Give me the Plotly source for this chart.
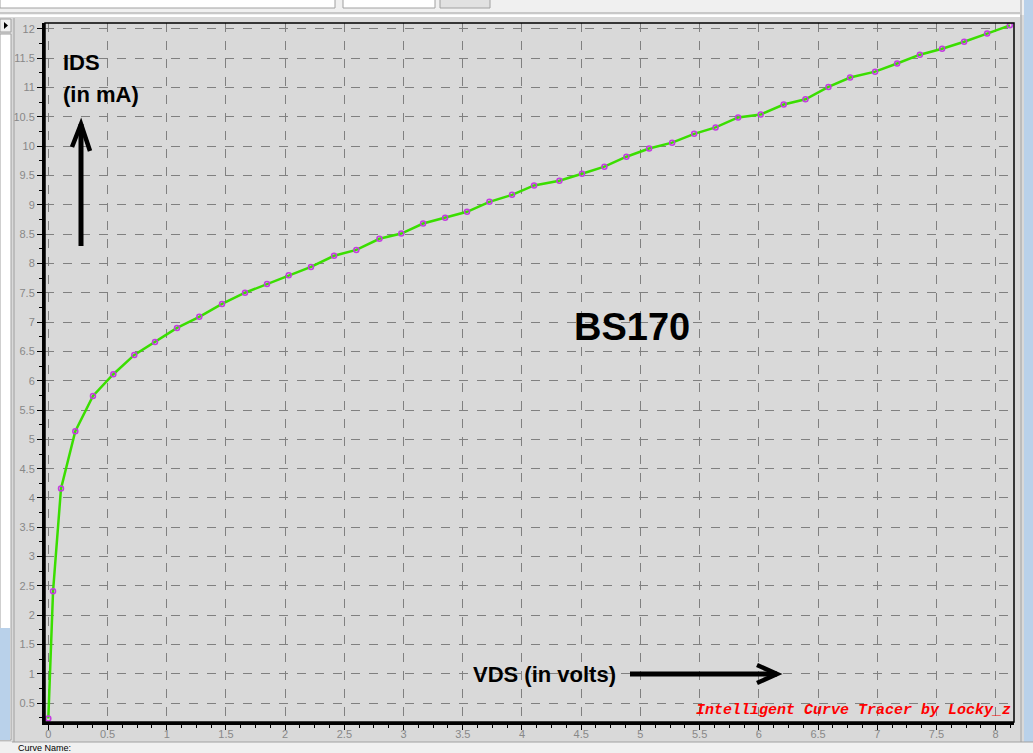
import plotly.graph_objects as go

# ---- data ----
vds = [0, 0.04, 0.107, 0.228, 0.377, 0.549, 0.726, 0.901, 1.087, 1.275, 1.467, 1.661,
       1.847, 2.03, 2.218, 2.413, 2.601, 2.796, 2.981, 3.165, 3.351, 3.536, 3.725, 3.916,
       4.102, 4.316, 4.507, 4.696, 4.882, 5.074, 5.268, 5.454, 5.635, 5.825, 6.016, 6.21,
       6.394, 6.588, 6.771, 6.982, 7.168, 7.36, 7.548, 7.734, 7.928, 8.12]
ids_ma = [0.24, 2.41, 4.16, 5.14, 5.74, 6.11, 6.44, 6.66, 6.90, 7.09, 7.31, 7.50,
          7.65, 7.80, 7.94, 8.13, 8.23, 8.42, 8.51, 8.68, 8.78, 8.88, 9.05, 9.17,
          9.33, 9.41, 9.53, 9.65, 9.82, 9.96, 10.06, 10.21, 10.32, 10.49, 10.54, 10.71,
          10.80, 11.01, 11.17, 11.27, 11.41, 11.56, 11.66, 11.78, 11.92, 12.06]
x_ticks = [i * 0.5 for i in range(17)]
x_tick_labels = ["0", "0.5", "1", "1.5", "2", "2.5", "3", "3.5", "4", "4.5", "5",
                 "5.5", "6", "6.5", "7", "7.5", "8"]
y_ticks = [0.5 * i for i in range(1, 25)]
y_tick_labels = ["0.5", "1", "1.5", "2", "2.5", "3", "3.5", "4", "4.5", "5", "5.5", "6",
                 "6.5", "7", "7.5", "8", "8.5", "9", "9.5", "10", "10.5", "11", "11.5", "12"]

W, H = 1033, 753
L, R, T, B = 45, 1014, 23, 722


def px(x):
    return (x - L) / (R - L)


def py(y):
    return (B - y) / (B - T)


BOLD = "Liberation Sans, Arial, sans-serif"
GRID = "#808080"

fig = go.Figure()
fig.add_trace(go.Scatter(
    x=vds, y=ids_ma, mode="lines+markers",
    line=dict(color="#3ade00", width=2.5),
    marker=dict(symbol="circle-open", size=5, color="#c43ce0", line=dict(width=1.5)),
    showlegend=False, hoverinfo="x+y",
))

shapes = []
# window chrome
shapes.append(dict(type="rect", xref="paper", yref="paper", x0=px(0), x1=px(W), y0=py(0), y1=py(15),
                   fillcolor="#f0f0f0", line=dict(width=0), layer="below"))
shapes.append(dict(type="rect", xref="paper", yref="paper", x0=px(0), x1=px(335), y0=py(-2), y1=py(8),
                   fillcolor="#ffffff", line=dict(color="#a0a0a0", width=1)))
shapes.append(dict(type="rect", xref="paper", yref="paper", x0=px(343), x1=px(435), y0=py(-2), y1=py(8),
                   fillcolor="#ffffff", line=dict(color="#a0a0a0", width=1)))
shapes.append(dict(type="rect", xref="paper", yref="paper", x0=px(440), x1=px(490), y0=py(-2), y1=py(8),
                   fillcolor="#e1e1e1", line=dict(color="#a0a0a0", width=1)))
shapes.append(dict(type="line", xref="paper", yref="paper", x0=px(0), x1=px(1020), y0=py(13), y1=py(13),
                   line=dict(color="#a0a0a0", width=1)))
shapes.append(dict(type="line", xref="paper", yref="paper", x0=px(0), x1=px(1020), y0=py(16), y1=py(16),
                   line=dict(color="#ffffff", width=2)))
# left panel
shapes.append(dict(type="rect", xref="paper", yref="paper", x0=px(0), x1=px(11), y0=py(34), y1=py(740),
                   fillcolor="#ffffff", line=dict(color="#a0a0a0", width=1)))
shapes.append(dict(type="rect", xref="paper", yref="paper", x0=px(0), x1=px(10), y0=py(628), y1=py(740),
                   fillcolor="#b9d1ea", line=dict(width=0)))
shapes.append(dict(type="rect", xref="paper", yref="paper", x0=px(0), x1=px(11), y0=py(19), y1=py(32),
                   fillcolor="#f0f0f0", line=dict(color="#a0a0a0", width=1)))
shapes.append(dict(type="path", xref="paper", yref="paper",
                   path=f"M {px(4)} {py(22)} L {px(8)} {py(25.5)} L {px(4)} {py(29)} Z",
                   fillcolor="#000000", line=dict(width=0)))
shapes.append(dict(type="line", xref="paper", yref="paper", x0=px(14), x1=px(14), y0=py(18), y1=py(742),
                   line=dict(color="#a0a0a0", width=1)))
# right strip
shapes.append(dict(type="rect", xref="paper", yref="paper", x0=px(1024), x1=px(1034), y0=py(0), y1=py(742),
                   fillcolor="#b9d1ea", line=dict(width=0)))
shapes.append(dict(type="line", xref="paper", yref="paper", x0=px(1021), x1=px(1021), y0=py(0), y1=py(742),
                   line=dict(color="#a0a0a0", width=1)))
# bottom strip
shapes.append(dict(type="rect", xref="paper", yref="paper", x0=px(0), x1=px(W), y0=py(742), y1=py(H + 2),
                   fillcolor="#f0f0f0", line=dict(width=0)))
shapes.append(dict(type="line", xref="paper", yref="paper", x0=px(12), x1=px(W), y0=py(742), y1=py(742),
                   line=dict(color="#a0a0a0", width=1)))
# frame (top/right thin)
shapes.append(dict(type="rect", xref="paper", yref="paper", x0=0, x1=1, y0=0, y1=1,
                   line=dict(color="#000000", width=1.5)))
# arrows
shapes.append(dict(type="path", xref="paper", yref="paper",
                   path=f"M {px(81)} {py(246)} L {px(81)} {py(124)}",
                   line=dict(color="#000000", width=5)))
shapes.append(dict(type="path", xref="paper", yref="paper",
                   path=f"M {px(72)} {py(147)} L {px(81)} {py(124)} L {px(90)} {py(151)}",
                   line=dict(color="#000000", width=4.5)))
shapes.append(dict(type="path", xref="paper", yref="paper",
                   path=f"M {px(630)} {py(674)} L {px(777)} {py(674)}",
                   line=dict(color="#000000", width=5)))
shapes.append(dict(type="path", xref="paper", yref="paper",
                   path=f"M {px(757)} {py(665)} L {px(777)} {py(674)} L {px(757)} {py(683)}",
                   line=dict(color="#000000", width=4.5)))

annotations = [
    dict(text="<b>IDS</b>", x=px(61), y=py(63), xanchor="left", yanchor="middle",
         font=dict(family=BOLD, size=22, color="#000000")),
    dict(text="<b>(in mA)</b>", x=px(61), y=py(94), xanchor="left", yanchor="middle",
         font=dict(family=BOLD, size=22, color="#000000")),
    dict(text="<b>BS170</b>", x=px(632), y=py(327), xanchor="center", yanchor="middle",
         font=dict(family=BOLD, size=38, color="#000000")),
    dict(text="<b>VDS (in volts)</b>", x=px(471), y=py(674), xanchor="left", yanchor="middle",
         font=dict(family=BOLD, size=22, color="#000000")),
    dict(text="<b><i>Intelligent Curve Tracer by Locky_z</i></b>", x=px(694), y=py(710),
         xanchor="left", yanchor="middle",
         font=dict(family="Liberation Mono, Courier New, monospace", size=15, color="#ff0000")),
    dict(text="Curve Name:", x=px(16), y=py(747.5), xanchor="left", yanchor="middle",
         font=dict(family="Liberation Sans, Arial", size=9, color="#000000")),
]
for a in annotations:
    a.update(xref="paper", yref="paper", showarrow=False)

fig.update_layout(
    width=W, height=H,
    margin=dict(l=L, r=W - R, t=T, b=H - B, pad=0, autoexpand=False),
    paper_bgcolor="#d9d9d9", plot_bgcolor="#d9d9d9",
    shapes=shapes, annotations=annotations,
    font=dict(family="Liberation Sans, Arial, sans-serif", size=11, color="#888888"),
    xaxis=dict(range=[-0.028, 8.155], tickmode="array", tickvals=x_ticks, ticktext=x_tick_labels,
               showgrid=True, gridcolor=GRID, griddash="dash", gridwidth=1, automargin=False,
               showline=True, linecolor="#000000", linewidth=3, zeroline=False,
               ticks="outside", ticklen=5, tickcolor="#000000", tickwidth=1,
               ticklabelstandoff=-5,
               minor=dict(dtick=0.125, tick0=0, ticks="outside", ticklen=3, tickcolor="#000000", showgrid=False),
               tickfont=dict(color="#888888", size=11), fixedrange=True),
    yaxis=dict(range=[0.18, 12.1], tickmode="array", tickvals=y_ticks, ticktext=y_tick_labels,
               showgrid=True, gridcolor=GRID, griddash="dash", gridwidth=1, automargin=False,
               showline=True, linecolor="#000000", linewidth=3, zeroline=False,
               ticks="outside", ticklen=5, tickcolor="#000000", tickwidth=1,
               minor=dict(dtick=0.25, tick0=0, ticks="outside", ticklen=3, tickcolor="#000000", showgrid=False),
               tickfont=dict(color="#888888", size=11), fixedrange=True),
)

fig.write_html(
    "out.html",
    config={"displayModeBar": False},
    post_script="document.body.style.margin='0';document.body.style.overflow='hidden';",
)
